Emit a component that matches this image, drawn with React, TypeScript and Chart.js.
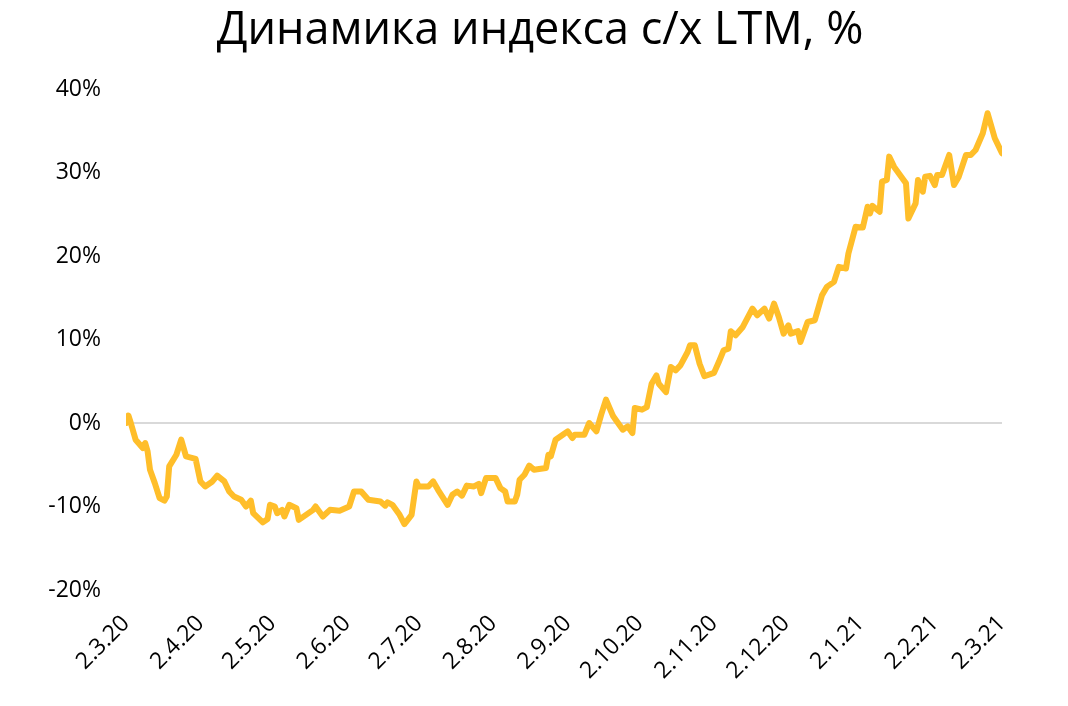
import React, { useEffect, useRef } from "react";
import { Chart, registerables } from "chart.js";

Chart.register(...registerables);

const TITLE = "Динамика индекса с/х LTM, %";

// day offsets from 2 March 2020 for the month ticks
const tickDays = [0, 31, 61, 92, 122, 153, 184, 214, 245, 275, 306, 337, 365];
const tickLabels = [
  "2.3.20", "2.4.20", "2.5.20", "2.6.20", "2.7.20", "2.8.20", "2.9.20",
  "2.10.20", "2.11.20", "2.12.20", "2.1.21", "2.2.21", "2.3.21",
];
const yTicks = [-20, -10, 0, 10, 20, 30, 40];

// series: day offset since 2.3.20 and index change, %
const days = [
  0, 1, 2, 4, 7, 8, 9, 10, 12, 14, 16, 17, 18, 21, 23, 25, 29, 31, 33, 36,
  38, 41, 43, 45, 48, 50, 52, 53, 57, 59, 60, 62, 63, 65, 66, 68, 71, 72, 78, 79,
  82, 85, 89, 93, 95, 98, 101, 106, 108, 109, 111, 114, 116, 119, 121, 122, 126, 128, 130, 134,
  136, 138, 140, 142, 145, 147, 148, 150, 154, 156, 158, 159, 162, 163, 164, 166, 168, 170, 175, 176,
  177, 179, 182, 184, 186, 187, 191, 193, 196, 198, 200, 203, 205, 207, 209, 211, 212, 215, 217, 219,
  221, 222, 225, 227, 229, 231, 234, 235, 237, 239, 241, 245, 247, 249, 251, 252, 254, 257, 261, 263,
  266, 268, 270, 272, 274, 276, 277, 280, 281, 284, 287, 288, 290, 292, 295, 297, 300, 301, 304, 307,
  309, 310, 311, 314, 315, 317, 318, 320, 324, 325, 326, 329, 330, 332, 333, 335, 337, 338, 340, 343,
  345, 347, 350, 352, 354, 357, 359, 362, 365,
];
const values = [
  0.0, 0.9, 0.0, -2.0, -3.0, -2.4, -3.4, -5.6, -7.2, -9.0, -9.3, -8.8, -5.2, -3.8, -2.0, -4.0, -4.3, -7.0, -7.6, -7.0,
  -6.3, -7.0, -8.2, -8.8, -9.2, -10.0, -9.3, -10.8, -11.9, -11.5, -9.8, -10.0, -10.8, -10.4, -11.2, -9.8, -10.2, -11.6, -10.4, -10.0,
  -11.2, -10.4, -10.5, -10.0, -8.2, -8.2, -9.2, -9.4, -9.9, -9.5, -9.8, -11.0, -12.1, -11.0, -7.0, -7.6, -7.6, -7.0, -8.0, -9.8,
  -8.6, -8.2, -8.7, -7.5, -7.6, -7.3, -8.4, -6.6, -6.6, -7.8, -8.2, -9.4, -9.4, -8.6, -6.8, -6.2, -5.1, -5.6, -5.4, -3.8,
  -4.0, -2.0, -1.4, -1.0, -1.8, -1.4, -1.4, 0.0, -1.0, 1.0, 2.8, 0.8, 0.0, -0.8, -0.4, -1.2, 1.8, 1.6, 1.9, 4.7,
  5.7, 4.7, 3.7, 6.7, 6.3, 6.9, 8.5, 9.3, 9.3, 7.1, 5.6, 6.0, 7.3, 8.7, 8.9, 11.0, 10.5, 11.5, 13.7, 12.9,
  13.7, 12.5, 14.3, 12.7, 10.7, 11.7, 10.7, 11.0, 9.7, 12.1, 12.3, 13.3, 15.3, 16.3, 16.9, 18.7, 18.5, 20.3, 23.5, 23.4,
  25.9, 25.1, 26.0, 25.3, 28.9, 29.1, 31.9, 30.7, 29.1, 28.7, 24.5, 26.3, 29.1, 27.7, 29.5, 29.6, 28.5, 29.7, 29.7, 32.1,
  28.5, 29.5, 32.1, 32.1, 32.7, 34.7, 37.1, 34.1, 32.3,
];

const FONT = "'Open Sans', 'Noto Sans', sans-serif";

const centeredTitle = {
  id: "centeredTitle",
  afterDraw(chart: any) {
    const ctx = chart.ctx;
    ctx.save();
    ctx.font = `normal 45px ${FONT}`;
    ctx.fillStyle = "#000000";
    ctx.textAlign = "center";
    ctx.textBaseline = "middle";
    ctx.fillText(TITLE, chart.width / 2 + 6, 31);
    ctx.restore();
  },
};

export default function App() {
  const canvasRef = useRef<HTMLCanvasElement | null>(null);

  useEffect(() => {
    document.body.style.margin = "0";
    const canvas = canvasRef.current;
    if (!canvas) return;
    const points = days.map((d, i) => ({ x: d, y: values[i] }));
    const chart = new Chart(canvas, {
      type: "line",
      data: {
        datasets: [
          {
            data: points,
            borderColor: "#FFBE2A",
            borderWidth: 6,
            pointRadius: 0,
            tension: 0,
            borderJoinStyle: "round",
            borderCapStyle: "round",
            fill: false,
          },
        ],
      },
      plugins: [centeredTitle],
      options: {
        animation: false,
        responsive: true,
        maintainAspectRatio: false,
        layout: { padding: { left: 8, right: 66, top: 89, bottom: 0 } },
        plugins: {
          legend: { display: false },
          tooltip: { enabled: false },
          title: { display: false },
        },
        scales: {
          x: {
            type: "linear",
            min: 0,
            max: 365,
            afterBuildTicks: (scale: any) => {
              scale.ticks = tickDays.map((v) => ({ value: v }));
            },
            afterFit: (scale: any) => {
              scale.height = 116;
            },
            ticks: {
              autoSkip: false,
              minRotation: 45,
              maxRotation: 45,
              padding: 20,
              color: "#000000",
              font: { family: FONT, size: 23 },
              callback: (_v: any, i: number) => tickLabels[i],
            },
            grid: { display: false, drawTicks: false },
            border: { display: false },
          },
          y: {
            type: "linear",
            min: -20,
            max: 40,
            afterBuildTicks: (scale: any) => {
              scale.ticks = yTicks.map((v) => ({ value: v }));
            },
            afterFit: (scale: any) => {
              scale.width = 118;
            },
            ticks: {
              padding: 25,
              color: "#000000",
              font: { family: FONT, size: 23 },
              callback: (v: any) => v + "%",
            },
            grid: {
              drawTicks: false,
              lineWidth: 2,
              color: (ctx: any) =>
                ctx.tick && ctx.tick.value === 0 ? "#D9D9D9" : "rgba(0,0,0,0)",
            },
            border: { display: false },
          },
        },
      },
    });
    return () => chart.destroy();
  }, []);

  return (
    <div style={{ width: 1068, height: 706, position: "relative" }}>
      <canvas ref={canvasRef} />
    </div>
  );
}
